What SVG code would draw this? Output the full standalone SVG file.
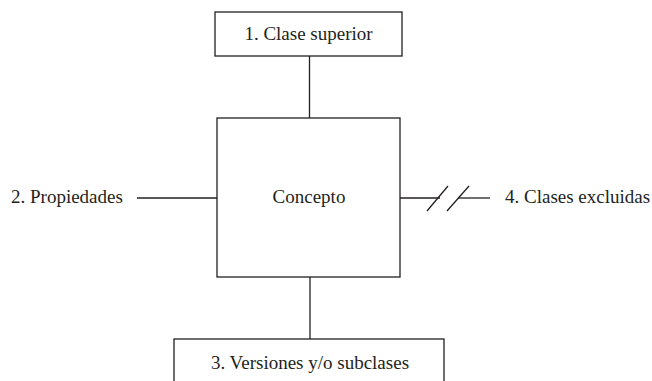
<svg xmlns="http://www.w3.org/2000/svg" width="652" height="381" viewBox="0 0 652 381">
<style>
.box{fill:#fff;stroke:#231f20;stroke-width:1.3}
.ln{stroke:#231f20;stroke-width:1.3;fill:none}
text{font-family:"Liberation Serif","Times New Roman",serif;font-size:19px;fill:#231f20}
.c{text-anchor:middle}
</style>
<rect width="652" height="381" fill="#fff"/>
<g id="connectors">
<line class="ln" x1="309.5" y1="56" x2="309.5" y2="118"/>
<line class="ln" x1="310" y1="277" x2="310" y2="339"/>
<line class="ln" x1="137" y1="198" x2="217" y2="198"/>
<line class="ln" x1="400" y1="198" x2="440" y2="198"/>
<line class="ln" x1="458" y1="198" x2="490" y2="198"/>
<line class="ln" x1="427" y1="211" x2="448" y2="186"/>
<line class="ln" x1="447" y1="211" x2="469" y2="186"/>
</g>
<g id="n1">
<rect class="box" x="215" y="12" width="187" height="44"/>
<text class="c" x="308.5" y="40">1. Clase superior</text>
</g>
<g id="concepto">
<rect class="box" x="217" y="118" width="183" height="159"/>
<text class="c" x="309" y="203">Concepto</text>
</g>
<g id="n2">
<text x="11" y="203">2. Propiedades</text>
</g>
<g id="n4">
<text x="505" y="203">4. Clases excluidas</text>
</g>
<g id="n3">
<rect class="box" x="174" y="339" width="270" height="50"/>
<text class="c" x="310" y="369">3. Versiones y/o subclases</text>
</g>
</svg>
